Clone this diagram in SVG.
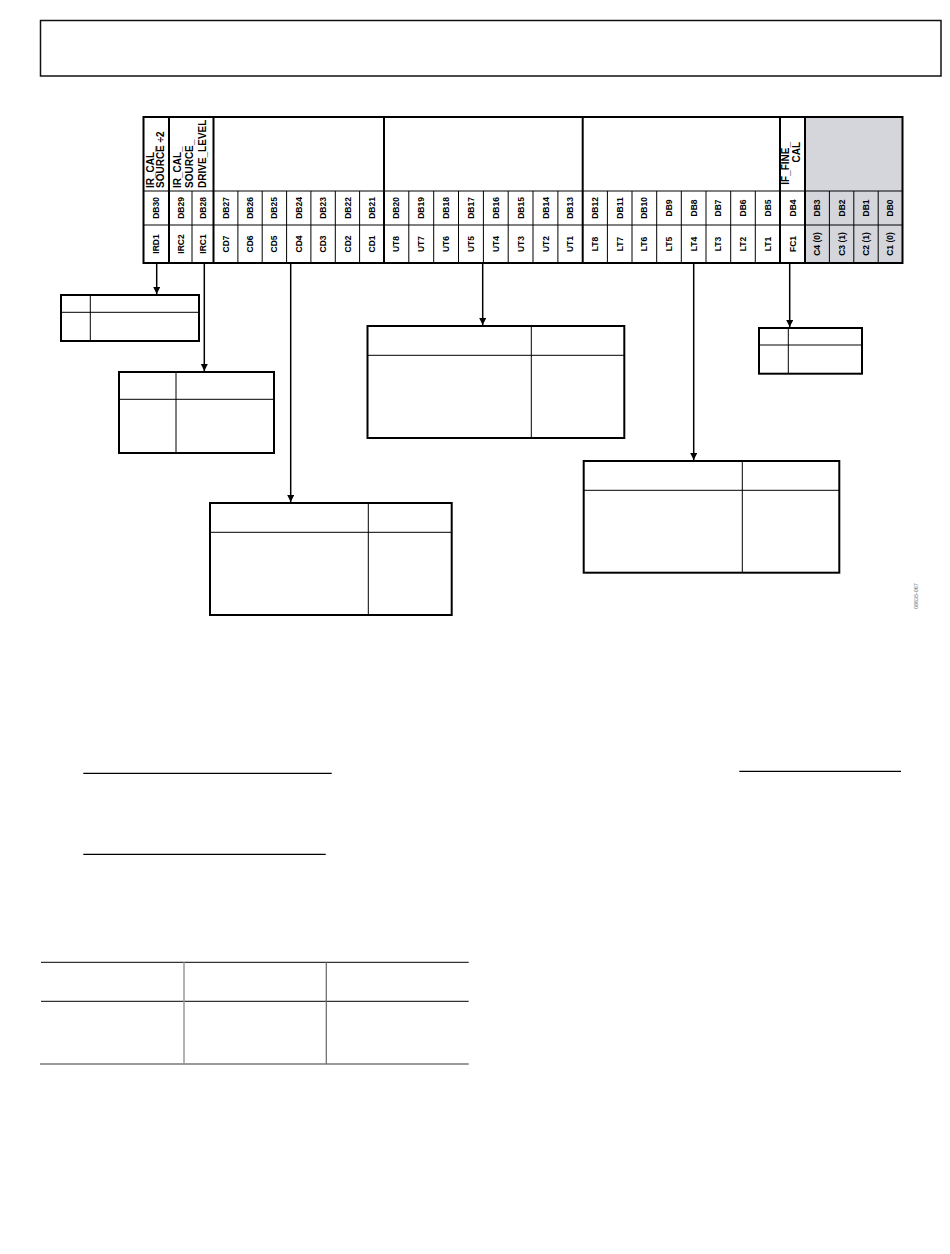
<svg xmlns="http://www.w3.org/2000/svg" width="950" height="1254" viewBox="0 0 950 1254">
<style>
text{font-family:"Liberation Sans",Arial,sans-serif;fill:#000}
.lbl{font-size:8.5px;font-weight:bold;text-anchor:middle}
.hdr{font-size:10px;font-weight:bold}
.thick{stroke:#000;stroke-width:2;fill:none}
.thin{stroke:#000;stroke-width:1;fill:none}
.tb{fill:#fff;stroke:#000;stroke-width:2}
.conn{stroke:#000;stroke-width:1.5;fill:none}
.note{font-size:5.4px;fill:#777}
</style>
<defs>
<marker id="ah" markerUnits="userSpaceOnUse" markerWidth="8" markerHeight="10" refX="7" refY="3.5" orient="auto">
<path d="M0,0 L7,3.5 L0,7 Z" fill="#000"/>
</marker>
</defs>
<rect width="950" height="1254" fill="#fff"/>

<g id="title-box">
<rect x="40.5" y="20.5" width="900.5" height="55.5" fill="none" stroke="#111" stroke-width="1.5"/>
</g>

<g id="register">
<rect x="805" y="117" width="97.5" height="146" fill="#d4d6dc"/>
<line class="thin" x1="143.5" y1="191" x2="902.5" y2="191"/>
<line class="thin" x1="143.5" y1="225" x2="902.5" y2="225"/>
<g class="thin">
<line x1="192" y1="191" x2="192" y2="263"/>
<line x1="237.9" y1="191" x2="237.9" y2="263"/>
<line x1="262.2" y1="191" x2="262.2" y2="263"/>
<line x1="286.6" y1="191" x2="286.6" y2="263"/>
<line x1="310.9" y1="191" x2="310.9" y2="263"/>
<line x1="335.3" y1="191" x2="335.3" y2="263"/>
<line x1="359.6" y1="191" x2="359.6" y2="263"/>
<line x1="408.8" y1="191" x2="408.8" y2="263"/>
<line x1="433.7" y1="191" x2="433.7" y2="263"/>
<line x1="458.5" y1="191" x2="458.5" y2="263"/>
<line x1="483.4" y1="191" x2="483.4" y2="263"/>
<line x1="508.2" y1="191" x2="508.2" y2="263"/>
<line x1="533" y1="191" x2="533" y2="263"/>
<line x1="557.9" y1="191" x2="557.9" y2="263"/>
<line x1="607.4" y1="191" x2="607.4" y2="263"/>
<line x1="632" y1="191" x2="632" y2="263"/>
<line x1="656.7" y1="191" x2="656.7" y2="263"/>
<line x1="681.3" y1="191" x2="681.3" y2="263"/>
<line x1="706" y1="191" x2="706" y2="263"/>
<line x1="730.7" y1="191" x2="730.7" y2="263"/>
<line x1="755.3" y1="191" x2="755.3" y2="263"/>
<line x1="829.4" y1="191" x2="829.4" y2="263"/>
<line x1="853.8" y1="191" x2="853.8" y2="263"/>
<line x1="878.2" y1="191" x2="878.2" y2="263"/>
</g>
<g class="thick">
<line x1="169" y1="117" x2="169" y2="263"/>
<line x1="213.5" y1="117" x2="213.5" y2="263"/>
<line x1="384" y1="117" x2="384" y2="263"/>
<line x1="582.7" y1="117" x2="582.7" y2="263"/>
<line x1="780" y1="117" x2="780" y2="263"/>
<line x1="805" y1="117" x2="805" y2="263"/>
</g>
<rect class="thick" x="143.5" y="117" width="759" height="146"/>

<text class="hdr" transform="translate(153.5,188) rotate(-90)">IR_CAL_</text>
<text class="hdr" transform="translate(164,188) rotate(-90)">SOURCE ÷2</text>
<text class="hdr" transform="translate(180.5,188) rotate(-90)">IR_CAL_</text>
<text class="hdr" transform="translate(193.2,188) rotate(-90)">SOURCE_</text>
<text class="hdr" transform="translate(206,188) rotate(-90)">DRIVE_LEVEL</text>
<text class="hdr" text-anchor="end" transform="translate(788.5,142) rotate(-90)">IF_FINE_</text>
<text class="hdr" text-anchor="end" transform="translate(800,142) rotate(-90)">CAL</text>

<text class="lbl" transform="translate(159.3,208) rotate(-90)">DB30</text>
<text class="lbl" transform="translate(183.5,208) rotate(-90)">DB29</text>
<text class="lbl" transform="translate(205.8,208) rotate(-90)">DB28</text>
<text class="lbl" transform="translate(228.7,208) rotate(-90)">DB27</text>
<text class="lbl" transform="translate(253.1,208) rotate(-90)">DB26</text>
<text class="lbl" transform="translate(277.4,208) rotate(-90)">DB25</text>
<text class="lbl" transform="translate(301.8,208) rotate(-90)">DB24</text>
<text class="lbl" transform="translate(326.1,208) rotate(-90)">DB23</text>
<text class="lbl" transform="translate(350.5,208) rotate(-90)">DB22</text>
<text class="lbl" transform="translate(374.8,208) rotate(-90)">DB21</text>
<text class="lbl" transform="translate(399.4,208) rotate(-90)">DB20</text>
<text class="lbl" transform="translate(424.3,208) rotate(-90)">DB19</text>
<text class="lbl" transform="translate(449.1,208) rotate(-90)">DB18</text>
<text class="lbl" transform="translate(474,208) rotate(-90)">DB17</text>
<text class="lbl" transform="translate(498.8,208) rotate(-90)">DB16</text>
<text class="lbl" transform="translate(523.6,208) rotate(-90)">DB15</text>
<text class="lbl" transform="translate(548.5,208) rotate(-90)">DB14</text>
<text class="lbl" transform="translate(573.3,208) rotate(-90)">DB13</text>
<text class="lbl" transform="translate(598.1,208) rotate(-90)">DB12</text>
<text class="lbl" transform="translate(622.7,208) rotate(-90)">DB11</text>
<text class="lbl" transform="translate(647.4,208) rotate(-90)">DB10</text>
<text class="lbl" transform="translate(672,208) rotate(-90)">DB9</text>
<text class="lbl" transform="translate(696.7,208) rotate(-90)">DB8</text>
<text class="lbl" transform="translate(721.4,208) rotate(-90)">DB7</text>
<text class="lbl" transform="translate(746,208) rotate(-90)">DB6</text>
<text class="lbl" transform="translate(770.7,208) rotate(-90)">DB5</text>
<text class="lbl" transform="translate(795.5,208) rotate(-90)">DB4</text>
<text class="lbl" transform="translate(820.2,208) rotate(-90)">DB3</text>
<text class="lbl" transform="translate(844.6,208) rotate(-90)">DB2</text>
<text class="lbl" transform="translate(869,208) rotate(-90)">DB1</text>
<text class="lbl" transform="translate(893.4,208) rotate(-90)">DB0</text>

<text class="lbl" transform="translate(159.3,244) rotate(-90)">IRD1</text>
<text class="lbl" transform="translate(183.5,244) rotate(-90)">IRC2</text>
<text class="lbl" transform="translate(205.8,244) rotate(-90)">IRC1</text>
<text class="lbl" transform="translate(228.7,244) rotate(-90)">CD7</text>
<text class="lbl" transform="translate(253.1,244) rotate(-90)">CD6</text>
<text class="lbl" transform="translate(277.4,244) rotate(-90)">CD5</text>
<text class="lbl" transform="translate(301.8,244) rotate(-90)">CD4</text>
<text class="lbl" transform="translate(326.1,244) rotate(-90)">CD3</text>
<text class="lbl" transform="translate(350.5,244) rotate(-90)">CD2</text>
<text class="lbl" transform="translate(374.8,244) rotate(-90)">CD1</text>
<text class="lbl" transform="translate(399.4,244) rotate(-90)">UT8</text>
<text class="lbl" transform="translate(424.3,244) rotate(-90)">UT7</text>
<text class="lbl" transform="translate(449.1,244) rotate(-90)">UT6</text>
<text class="lbl" transform="translate(474,244) rotate(-90)">UT5</text>
<text class="lbl" transform="translate(498.8,244) rotate(-90)">UT4</text>
<text class="lbl" transform="translate(523.6,244) rotate(-90)">UT3</text>
<text class="lbl" transform="translate(548.5,244) rotate(-90)">UT2</text>
<text class="lbl" transform="translate(573.3,244) rotate(-90)">UT1</text>
<text class="lbl" transform="translate(598.1,244) rotate(-90)">LT8</text>
<text class="lbl" transform="translate(622.7,244) rotate(-90)">LT7</text>
<text class="lbl" transform="translate(647.4,244) rotate(-90)">LT6</text>
<text class="lbl" transform="translate(672,244) rotate(-90)">LT5</text>
<text class="lbl" transform="translate(696.7,244) rotate(-90)">LT4</text>
<text class="lbl" transform="translate(721.4,244) rotate(-90)">LT3</text>
<text class="lbl" transform="translate(746,244) rotate(-90)">LT2</text>
<text class="lbl" transform="translate(770.7,244) rotate(-90)">LT1</text>
<text class="lbl" transform="translate(795.5,244) rotate(-90)">FC1</text>
<text class="lbl" transform="translate(820.2,244) rotate(-90)">C4 (0)</text>
<text class="lbl" transform="translate(844.6,244) rotate(-90)">C3 (1)</text>
<text class="lbl" transform="translate(869,244) rotate(-90)">C2 (1)</text>
<text class="lbl" transform="translate(893.4,244) rotate(-90)">C1 (0)</text>
</g>

<g id="table-ird">
<rect class="tb" x="61" y="295" width="138" height="46"/>
<line class="thin" x1="61" y1="312.3" x2="199" y2="312.3"/>
<line class="thin" x1="90.3" y1="295" x2="90.3" y2="341"/>
</g>
<g id="table-irc">
<rect class="tb" x="119" y="372" width="155" height="81"/>
<line class="thin" x1="119" y1="399.3" x2="274" y2="399.3"/>
<line class="thin" x1="176" y1="372" x2="176" y2="453"/>
</g>
<g id="table-cd">
<rect class="tb" x="210" y="503" width="241.7" height="112"/>
<line class="thin" x1="210" y1="532.3" x2="451.7" y2="532.3"/>
<line class="thin" x1="368.3" y1="503" x2="368.3" y2="615"/>
</g>
<g id="table-ut">
<rect class="tb" x="367.5" y="326" width="256.8" height="112"/>
<line class="thin" x1="367.5" y1="355.3" x2="624.3" y2="355.3"/>
<line class="thin" x1="531.3" y1="326" x2="531.3" y2="438"/>
</g>
<g id="table-lt">
<rect class="tb" x="583.7" y="461" width="255.6" height="111.7"/>
<line class="thin" x1="583.7" y1="490.3" x2="839.3" y2="490.3"/>
<line class="thin" x1="742.3" y1="461" x2="742.3" y2="572.7"/>
</g>
<g id="table-fc">
<rect class="tb" x="759" y="328" width="103" height="45.7"/>
<line class="thin" x1="759" y1="345" x2="862" y2="345"/>
<line class="thin" x1="788.3" y1="328" x2="788.3" y2="373.7"/>
</g>

<g id="connectors">
<line class="conn" x1="156.7" y1="263" x2="156.7" y2="294" marker-end="url(#ah)"/>
<line class="conn" x1="204.3" y1="263" x2="204.3" y2="371" stroke-width="1.2" marker-end="url(#ah)"/>
<line class="conn" x1="290.7" y1="263" x2="290.7" y2="502" marker-end="url(#ah)"/>
<line class="conn" x1="482.7" y1="263" x2="482.7" y2="325" marker-end="url(#ah)"/>
<line class="conn" x1="693.7" y1="263" x2="693.7" y2="460" marker-end="url(#ah)"/>
<line class="conn" x1="789.7" y1="263" x2="789.7" y2="327" stroke-width="1.2" marker-end="url(#ah)"/>
</g>

<g id="figure-note">
<text class="note" transform="translate(917.5,609) rotate(-90)">08635-067</text>
</g>

<g id="rules">
<line x1="83.3" y1="773.3" x2="331.7" y2="773.3" stroke="#000" stroke-width="1.2"/>
<line x1="83.3" y1="854.3" x2="325.7" y2="854.3" stroke="#000" stroke-width="1.2"/>
<line x1="739.3" y1="771.3" x2="901" y2="771.3" stroke="#000" stroke-width="1.2"/>
</g>

<g id="bottom-table">
<line x1="41" y1="962.3" x2="468.7" y2="962.3" stroke="#000" stroke-width="1"/>
<line x1="41" y1="1001.3" x2="468.7" y2="1001.3" stroke="#000" stroke-width="1"/>
<line x1="40" y1="1064" x2="468.7" y2="1064" stroke="#777" stroke-width="1.5"/>
<line x1="184" y1="962.3" x2="184" y2="1064" stroke="#999" stroke-width="1.5"/>
<line x1="326.3" y1="962.3" x2="326.3" y2="1064" stroke="#666" stroke-width="1.2"/>
</g>
</svg>
